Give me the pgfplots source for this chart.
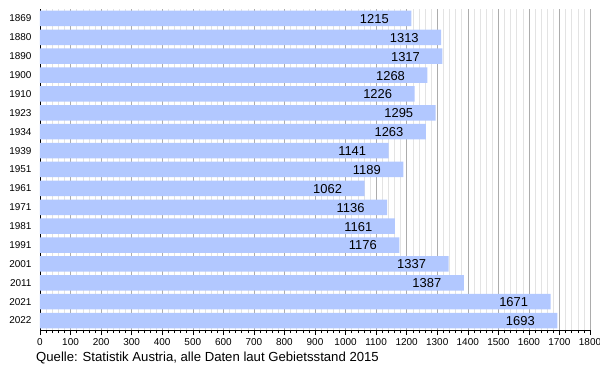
\documentclass[border=0pt]{standalone}
\usepackage{fontspec}
\setmainfont{Liberation Sans}
\usepackage{pgfplots}
\pgfplotsset{compat=1.18}
\definecolor{barblue}{RGB}{178,200,255}
\begin{document}
\begin{tikzpicture}
\begin{axis}[name=ax, scale only axis, width=550bp, height=321bp,
  xbar, bar width=15.5bp, bar shift=0pt,
  xmin=0, xmax=1800, ymin=-0.5, ymax=16.5,
  ytick={0,...,16},
  yticklabels={2022,2021,2011,2001,1991,1981,1971,1961,1951,1939,1934,1923,1910,1900,1890,1880,1869},
  xtick={0,100,...,1800}, minor x tick num=4,
  axis x line=bottom, axis y line=left, axis line style={-, black, line width=0.6pt},
  xmajorgrids, xminorgrids,
  major grid style={gray!65, line width=0.5pt},
  minor grid style={gray!22, line width=0.5pt},
  tick align=outside,
  major tick length=5bp, minor tick length=3bp,
  x tick style={black, line width=0.5pt},
  ytick style={draw=none},
  /pgf/number format/1000 sep={},
  /pgf/number format/assume math mode=true,
  xticklabel style={font=\fontsize{10}{12}\selectfont},
  yticklabel style={font=\fontsize{10}{12}\selectfont},
  nodes near coords,
  every node near coord/.append style={anchor=east, xshift=-19bp, yshift=-0.5bp, font=\fontsize{13}{15}\selectfont, text=black},
]
\addplot[fill=barblue, draw=none] coordinates {
(1693,0) (1671,1) (1387,2) (1337,3) (1176,4) (1161,5) (1136,6) (1062,7)
(1189,8) (1141,9) (1263,10) (1295,11) (1226,12) (1268,13) (1317,14) (1313,15) (1215,16)
};
\end{axis}
\node[anchor=west, font=\fontsize{13.2}{15}\selectfont, inner sep=0pt] at ([xshift=-4bp,yshift=-28bp]ax.south west) {Quelle: Statistik Austria, alle Daten laut Gebietsstand 2015};
\pgfresetboundingbox
\path ([xshift=-40bp,yshift=-40bp]ax.south west) rectangle ([xshift=10bp,yshift=9bp]ax.north east);
\end{tikzpicture}
\end{document}
